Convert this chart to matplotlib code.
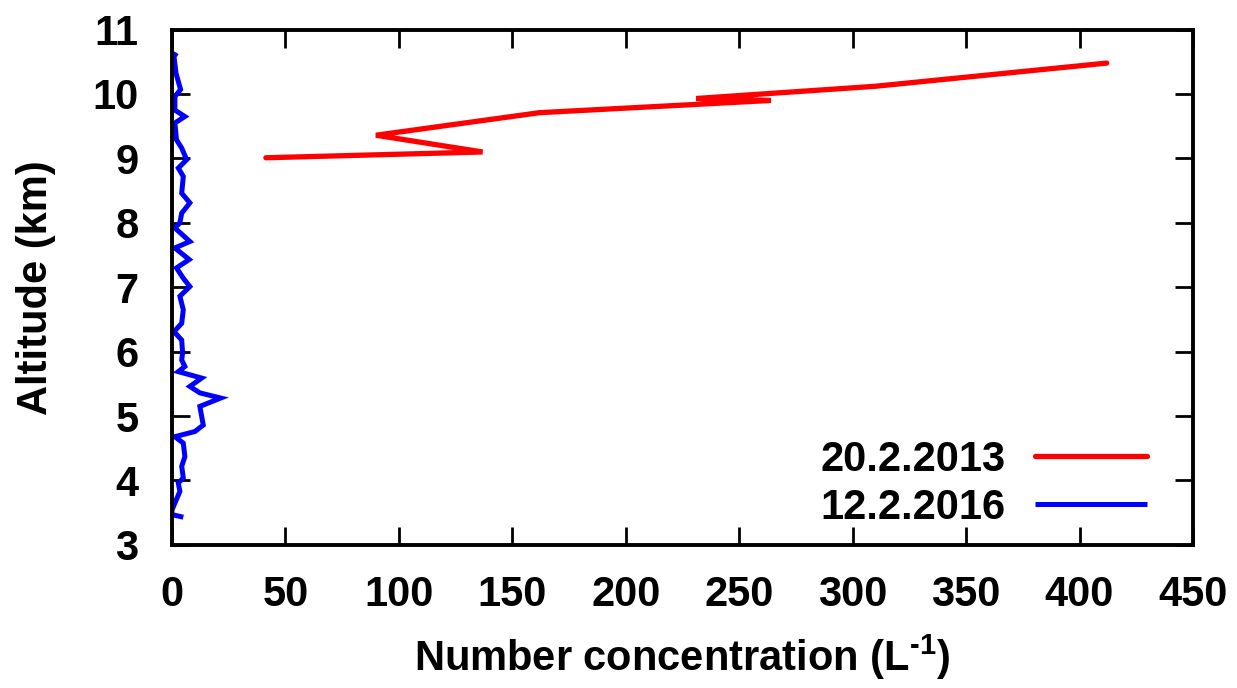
import matplotlib
matplotlib.use("Agg")
import matplotlib.pyplot as plt

plt.rcParams['font.family'] = ['Liberation Sans', 'DejaVu Sans']
plt.rcParams['font.weight'] = 'bold'
plt.rcParams['mathtext.fontset'] = 'custom'
plt.rcParams['mathtext.rm'] = 'Liberation Sans:bold'
plt.rcParams['mathtext.bf'] = 'Liberation Sans:bold'
plt.rcParams['mathtext.default'] = 'bf'

# 20.2.2013 profile (number concentration per litre, altitude km)
conc_2013 = [41.4, 136.9, 89.9, 162.0, 264.0, 231.0, 310.0, 412.0]
alt_2013 = [9.01, 9.10, 9.36, 9.71, 9.90, 9.93, 10.12, 10.48]

# 12.2.2016 profile
conc_2016 = [2.0, 0.9, 1.8, 3.8, 1.3, 1.3, 5.7, 1.3, 2.0, 4.3, 6.5, 2.8, 5.0, 4.3,
             7.9, 4.3, 3.5, 1.3, 7.9, 1.3, 7.6, 2.0, 5.0, 7.9, 3.5, 5.0, 4.3, 0.9,
             4.3, 4.7, 4.3, 5.7, 2.8, 13.1, 7.9, 12.3, 21.5, 12.3, 13.8, 10.1, 1.3,
             5.0, 5.7, 4.3, 5.0, 2.8, 3.5, 1.3, 0.0, 0.0, 5.0]
alt_2016 = [10.64, 10.58, 10.32, 10.07, 9.96, 9.75, 9.65, 9.55, 9.29, 9.16, 8.98,
            8.85, 8.72, 8.46, 8.31, 8.15, 8.00, 7.92, 7.71, 7.61, 7.43, 7.30, 7.14,
            7.01, 6.86, 6.65, 6.44, 6.31, 6.18, 5.98, 5.87, 5.77, 5.69, 5.59, 5.46,
            5.36, 5.28, 5.15, 4.86, 4.76, 4.68, 4.58, 4.37, 4.22, 4.04, 3.96, 3.83,
            3.65, 3.54, 3.47, 3.43]

xticks = [0, 50, 100, 150, 200, 250, 300, 350, 400, 450]
yticks = [3, 4, 5, 6, 7, 8, 9, 10, 11]

fig = plt.figure(figsize=(12.37, 6.88), dpi=100)
ax = fig.add_axes([0.139, 0.208, 0.8254, 0.749])

ax.plot(conc_2013, alt_2013, color='#ff0000', lw=3.8, label='20.2.2013',
        solid_capstyle='round', solid_joinstyle='miter')
ax.plot(conc_2016, alt_2016, color='#0000ff', lw=3.6, label='12.2.2016',
        solid_capstyle='butt', solid_joinstyle='miter')

ax.set_xlim(0, 450)
ax.set_ylim(3, 11)
ax.set_xticks(xticks)
ax.set_yticks(yticks)
ax.tick_params(direction='in', length=13, width=2, labelsize=30,
               top=True, right=True)
ax.tick_params(axis='x', pad=22)
ax.tick_params(axis='y', pad=24)
for s in ax.spines.values():
    s.set_linewidth(2.8)

ax.set_xlabel('Number concentration (L$^{\\text{-1}}$)', fontsize=30,
              fontweight='bold', labelpad=12)
ax.set_ylabel('Altitude (km)', fontsize=30, fontweight='bold', labelpad=26)

leg = ax.legend(loc='lower right', bbox_to_anchor=(0.955, 0.033), frameon=False,
                markerfirst=False, fontsize=30, handlelength=2.7,
                handletextpad=0.7, labelspacing=0.2, borderpad=0,
                borderaxespad=0)

fig.savefig('out.png', dpi=100)
